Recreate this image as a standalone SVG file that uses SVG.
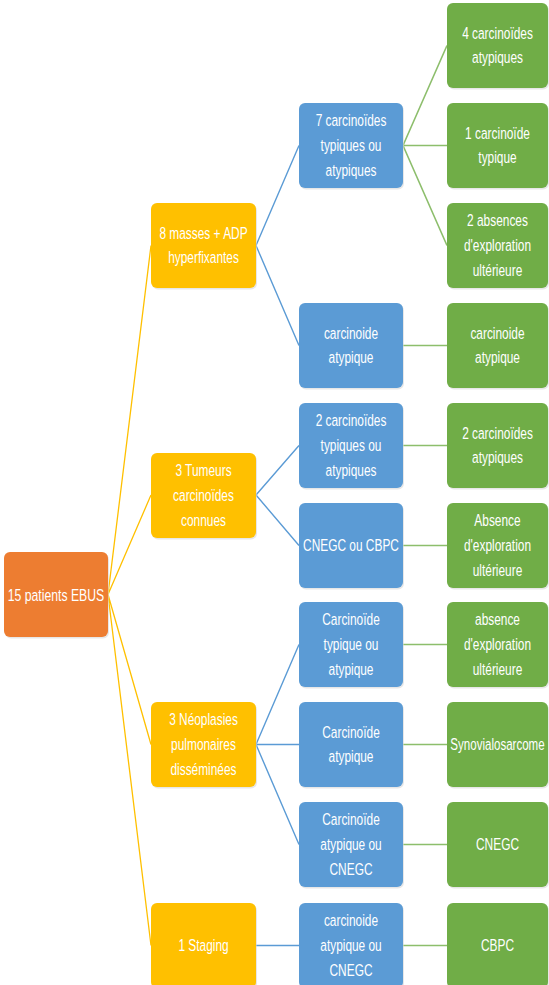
<svg xmlns="http://www.w3.org/2000/svg" width="549" height="985" viewBox="0 0 549 985">
<style>
.sh{fill:#d4d4d4;opacity:.55}
.o{fill:#ED7D31}.y{fill:#FFC000}.b{fill:#5B9BD5}.g{fill:#70AD47}
text{font-family:"Liberation Sans","DejaVu Sans",sans-serif;font-size:17px;fill:#fff;text-anchor:middle}
.cy{stroke:#FFC000;stroke-width:1.3;fill:none}
.cb{stroke:#5B9BD5;stroke-width:1.4;fill:none}
.cg{stroke:#8DBE6C;stroke-width:1.6;fill:none}
</style>
<rect width="549" height="985" fill="#fff"/>
<g id="connectors">
<path class="cy" d="M108 594.5L151 245.5M108 594.5L151 495M108 594.5L151 744.5M108 594.5L151 945.5"/>
<path class="cb" d="M256 245.5L299 145.5M256 245.5L299 345.5M256 495L299 445.5M256 495L299 545.5M256 744.5L299 644.5M256 744.5L299 744.5M256 744.5L299 844.5M256 945.5L299 945.5"/>
<path class="cg" d="M403 145.5L447 45.5M403 145.5L447 145.5M403 145.5L447 245.5M403 345.5L447 345.5M403 445.5L447 445.5M403 545.5L447 545.5M403 644.5L447 644.5M403 744.5L447 744.5M403 844.5L447 844.5M403 945.5L447 945.5"/>
</g>
<g id="root"><rect class="sh" x="5" y="553.5" width="104" height="85" rx="6"/><rect class="o" x="4" y="552" width="104" height="85" rx="6"/><text transform="matrix(0.72 0 0 1 56 600.5)">15 patients EBUS</text></g>

<g id="y1"><rect class="sh" x="152" y="204.5" width="105" height="85" rx="6"/><rect class="y" x="151" y="203" width="105" height="85" rx="6"/><text transform="matrix(0.7 0 0 1 203.5 245.5)"><tspan x="0" y="-7">8 masses + ADP</tspan><tspan x="0" y="18">hyperfixantes</tspan></text></g>
<g id="y2"><rect class="sh" x="152" y="454.5" width="105" height="85" rx="6"/><rect class="y" x="151" y="453" width="105" height="85" rx="6"/><text transform="matrix(0.7 0 0 1 203.5 495.5)"><tspan x="0" y="-19.5">3 Tumeurs</tspan><tspan x="0" y="5.5">carcinoïdes</tspan><tspan x="0" y="30.5">connues</tspan></text></g>
<g id="y3"><rect class="sh" x="152" y="703.5" width="105" height="85" rx="6"/><rect class="y" x="151" y="702" width="105" height="85" rx="6"/><text transform="matrix(0.7 0 0 1 203.5 744.5)"><tspan x="0" y="-19.5">3 Néoplasies</tspan><tspan x="0" y="5.5">pulmonaires</tspan><tspan x="0" y="30.5">disséminées</tspan></text></g>
<g id="y4"><rect class="sh" x="152" y="904.5" width="105" height="85" rx="6"/><rect class="y" x="151" y="903" width="105" height="85" rx="6"/><text transform="matrix(0.7 0 0 1 203.5 945.5)"><tspan x="0" y="5.5">1 Staging</tspan></text></g>

<g id="b1"><rect class="sh" x="300" y="104.5" width="104" height="85" rx="6"/><rect class="b" x="299" y="103" width="104" height="85" rx="6"/><text transform="matrix(0.7 0 0 1 351 145.5)"><tspan x="0" y="-19.5">7 carcinoïdes</tspan><tspan x="0" y="5.5">typiques ou</tspan><tspan x="0" y="30.5">atypiques</tspan></text></g>
<g id="b2"><rect class="sh" x="300" y="304.5" width="104" height="85" rx="6"/><rect class="b" x="299" y="303" width="104" height="85" rx="6"/><text transform="matrix(0.7 0 0 1 351 345.5)"><tspan x="0" y="-7">carcinoide</tspan><tspan x="0" y="18">atypique</tspan></text></g>
<g id="b3"><rect class="sh" x="300" y="404.5" width="104" height="85" rx="6"/><rect class="b" x="299" y="403" width="104" height="85" rx="6"/><text transform="matrix(0.7 0 0 1 351 445.5)"><tspan x="0" y="-19.5">2 carcinoïdes</tspan><tspan x="0" y="5.5">typiques ou</tspan><tspan x="0" y="30.5">atypiques</tspan></text></g>
<g id="b4"><rect class="sh" x="300" y="504.5" width="104" height="85" rx="6"/><rect class="b" x="299" y="503" width="104" height="85" rx="6"/><text transform="matrix(0.7 0 0 1 351 545.5)"><tspan x="0" y="5.5">CNEGC ou CBPC</tspan></text></g>
<g id="b5"><rect class="sh" x="300" y="603.5" width="104" height="85" rx="6"/><rect class="b" x="299" y="602" width="104" height="85" rx="6"/><text transform="matrix(0.7 0 0 1 351 644.5)"><tspan x="0" y="-19.5">Carcinoïde</tspan><tspan x="0" y="5.5">typique ou</tspan><tspan x="0" y="30.5">atypique</tspan></text></g>
<g id="b6"><rect class="sh" x="300" y="703.5" width="104" height="85" rx="6"/><rect class="b" x="299" y="702" width="104" height="85" rx="6"/><text transform="matrix(0.7 0 0 1 351 744.5)"><tspan x="0" y="-7">Carcinoïde</tspan><tspan x="0" y="18">atypique</tspan></text></g>
<g id="b7"><rect class="sh" x="300" y="803.5" width="104" height="85" rx="6"/><rect class="b" x="299" y="802" width="104" height="85" rx="6"/><text transform="matrix(0.7 0 0 1 351 844.5)"><tspan x="0" y="-19.5">Carcinoïde</tspan><tspan x="0" y="5.5">atypique ou</tspan><tspan x="0" y="30.5">CNEGC</tspan></text></g>
<g id="b8"><rect class="sh" x="300" y="904.5" width="104" height="85" rx="6"/><rect class="b" x="299" y="903" width="104" height="85" rx="6"/><text transform="matrix(0.7 0 0 1 351 945.5)"><tspan x="0" y="-19.5">carcinoide</tspan><tspan x="0" y="5.5">atypique ou</tspan><tspan x="0" y="30.5">CNEGC</tspan></text></g>

<g id="g1"><rect class="sh" x="448" y="4.5" width="101" height="85" rx="6"/><rect class="g" x="447" y="3" width="101" height="85" rx="6"/><text transform="matrix(0.7 0 0 1 497.5 45.5)"><tspan x="0" y="-7">4 carcinoïdes</tspan><tspan x="0" y="18">atypiques</tspan></text></g>
<g id="g2"><rect class="sh" x="448" y="104.5" width="101" height="85" rx="6"/><rect class="g" x="447" y="103" width="101" height="85" rx="6"/><text transform="matrix(0.7 0 0 1 497.5 145.5)"><tspan x="0" y="-7">1 carcinoïde</tspan><tspan x="0" y="18">typique</tspan></text></g>
<g id="g3"><rect class="sh" x="448" y="204.5" width="101" height="85" rx="6"/><rect class="g" x="447" y="203" width="101" height="85" rx="6"/><text transform="matrix(0.7 0 0 1 497.5 245.5)"><tspan x="0" y="-19.5">2 absences</tspan><tspan x="0" y="5.5">d'exploration</tspan><tspan x="0" y="30.5">ultérieure</tspan></text></g>
<g id="g4"><rect class="sh" x="448" y="304.5" width="101" height="85" rx="6"/><rect class="g" x="447" y="303" width="101" height="85" rx="6"/><text transform="matrix(0.7 0 0 1 497.5 345.5)"><tspan x="0" y="-7">carcinoide</tspan><tspan x="0" y="18">atypique</tspan></text></g>
<g id="g5"><rect class="sh" x="448" y="404.5" width="101" height="85" rx="6"/><rect class="g" x="447" y="403" width="101" height="85" rx="6"/><text transform="matrix(0.7 0 0 1 497.5 445.5)"><tspan x="0" y="-7">2 carcinoïdes</tspan><tspan x="0" y="18">atypiques</tspan></text></g>
<g id="g6"><rect class="sh" x="448" y="504.5" width="101" height="85" rx="6"/><rect class="g" x="447" y="503" width="101" height="85" rx="6"/><text transform="matrix(0.7 0 0 1 497.5 545.5)"><tspan x="0" y="-19.5">Absence</tspan><tspan x="0" y="5.5">d'exploration</tspan><tspan x="0" y="30.5">ultérieure</tspan></text></g>
<g id="g7"><rect class="sh" x="448" y="603.5" width="101" height="85" rx="6"/><rect class="g" x="447" y="602" width="101" height="85" rx="6"/><text transform="matrix(0.7 0 0 1 497.5 644.5)"><tspan x="0" y="-19.5">absence</tspan><tspan x="0" y="5.5">d'exploration</tspan><tspan x="0" y="30.5">ultérieure</tspan></text></g>
<g id="g8"><rect class="sh" x="448" y="703.5" width="101" height="85" rx="6"/><rect class="g" x="447" y="702" width="101" height="85" rx="6"/><text transform="matrix(0.68 0 0 1 497.5 744.5)"><tspan x="0" y="5.5">Synovialosarcome</tspan></text></g>
<g id="g9"><rect class="sh" x="448" y="803.5" width="101" height="85" rx="6"/><rect class="g" x="447" y="802" width="101" height="85" rx="6"/><text transform="matrix(0.7 0 0 1 497.5 844.5)"><tspan x="0" y="5.5">CNEGC</tspan></text></g>
<g id="g10"><rect class="sh" x="448" y="904.5" width="101" height="85" rx="6"/><rect class="g" x="447" y="903" width="101" height="85" rx="6"/><text transform="matrix(0.7 0 0 1 497.5 945.5)"><tspan x="0" y="5.5">CBPC</tspan></text></g>
</svg>
